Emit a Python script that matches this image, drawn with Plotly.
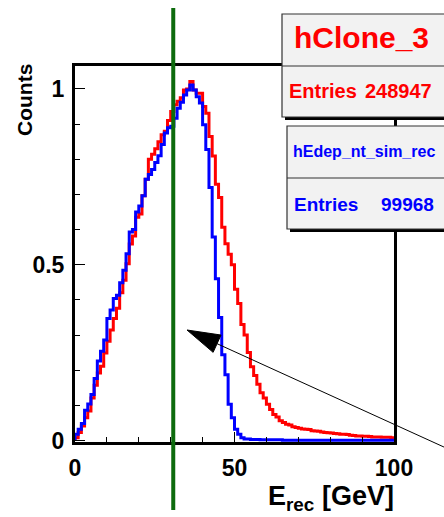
import numpy as np
import plotly.graph_objects as go

# ---------------- data ----------------
x_min, x_max, n_bins = 0.0, 100.0, 100

red_counts = [
    0.008, 0.023, 0.041, 0.065, 0.084, 0.121, 0.157, 0.192, 0.211, 0.249,
    0.282, 0.314, 0.347, 0.376, 0.420, 0.456, 0.503, 0.559, 0.582, 0.635,
    0.644, 0.696, 0.743, 0.800, 0.814, 0.830, 0.850, 0.870, 0.880, 0.910,
    0.936, 0.955, 0.965, 0.975, 0.997, 1.000, 1.021, 0.997, 0.988, 0.988,
    0.950, 0.931, 0.865, 0.809, 0.729, 0.691, 0.607, 0.560, 0.530, 0.500,
    0.430, 0.390, 0.330, 0.300, 0.250, 0.210, 0.185, 0.160, 0.136, 0.121,
    0.103, 0.088, 0.074, 0.067, 0.056, 0.051, 0.046, 0.044, 0.039, 0.037,
    0.035, 0.033, 0.032, 0.031, 0.028, 0.027, 0.026, 0.024, 0.023, 0.022,
    0.021, 0.020, 0.019, 0.018, 0.018, 0.017, 0.015, 0.014, 0.013, 0.013,
    0.012, 0.012, 0.011, 0.010, 0.010, 0.010, 0.009, 0.009, 0.009, 0.008,
]

blue_counts = [
    0.018, 0.032, 0.048, 0.086, 0.104, 0.131, 0.176, 0.226, 0.254, 0.286,
    0.347, 0.371, 0.404, 0.413, 0.449, 0.484, 0.531, 0.593, 0.600, 0.650,
    0.667, 0.696, 0.743, 0.757, 0.771, 0.791, 0.810, 0.842, 0.875, 0.890,
    0.894, 0.917, 0.945, 0.962, 0.983, 0.997, 1.011, 0.997, 0.978, 0.960,
    0.898, 0.828, 0.720, 0.579, 0.460, 0.350, 0.244, 0.187, 0.103, 0.065,
    0.032, 0.018, 0.008, 0.004, 0.004, 0.003, 0.003, 0.003, 0.002, 0.002,
    0.002, 0.002, 0.002, 0.002, 0.002, 0.001, 0.001, 0.001, 0.001, 0.001,
    0.001, 0.001, 0.001, 0.001, 0.001, 0.001, 0.001, 0.001, 0.001, 0.001,
    0.001, 0.001, 0.001, 0.001, 0.001, 0.001, 0.001, 0.001, 0.001, 0.001,
    0.001, 0.001, 0.001, 0.001, 0.001, 0.001, 0.001, 0.001, 0.001, 0.001,
]

red_name, red_entries = "hClone_3", "248947"
blue_name, blue_entries = "hEdep_nt_sim_rec", "99968"
cut_value = 30.8

x_tickvals = [0, 50, 100]
x_ticktext = ["0", "50", "100"]
y_tickvals = [0, 0.5, 1]
y_ticktext = ["0", "0.5", "1"]
x_title = "E<sub>rec</sub> [GeV]"
y_title = "Counts"

# ---------------- layout helpers ----------------
W, H = 444, 517
ML, MR, MT, MB = 75, 50, 66, 75
PW, PH = W - ML - MR, H - MT - MB
FONT = "Liberation Sans, Arial, Helvetica, sans-serif"


def pxx(x):
    return (x - ML) / PW


def pxy(y):
    return (H - MB - y) / PH


edges = np.linspace(x_min, x_max, n_bins + 1)


def step_xy(counts):
    xs = [edges[0]] + list(edges[:-1]) + [edges[-1], edges[-1]]
    ys = [0.0] + list(counts) + [counts[-1], 0.0]
    return xs, ys


fig = go.Figure()
for counts, color, name in [(red_counts, "#ff0000", red_name),
                            (blue_counts, "#0000ff", blue_name)]:
    xs, ys = step_xy(counts)
    fig.add_trace(go.Scatter(x=xs, y=ys, mode="lines", line_shape="hv",
                             line=dict(color=color, width=3), name=name,
                             showlegend=False, hoverinfo="skip"))

shapes = []
# green cut line
shapes.append(dict(type="line", xref="x", yref="paper", x0=cut_value, x1=cut_value,
                   y0=pxy(510), y1=pxy(8), line=dict(color="#0d6b0d", width=4),
                   layer="above"))

# arrow (shaft + head)
tip_px = (187.0, 330.0)
d = np.array([0.911, 0.415])
perp = np.array([-0.415, 0.911])
tail = np.array(tip_px) + 300 * d
base = np.array(tip_px) + 33 * d
b1 = base + 9.5 * perp
b2 = base - 9.5 * perp
shapes.append(dict(type="line", xref="paper", yref="paper",
                   x0=pxx(base[0]), y0=pxy(base[1]), x1=pxx(tail[0]), y1=pxy(tail[1]),
                   line=dict(color="black", width=1), layer="above"))
shapes.append(dict(type="path", xref="paper", yref="paper",
                   path=f"M{pxx(tip_px[0])},{pxy(tip_px[1])} L{pxx(b1[0])},{pxy(b1[1])} "
                        f"L{pxx(b2[0])},{pxy(b2[1])} Z",
                   fillcolor="black", line=dict(color="black", width=1), layer="above"))


def stat_box(x0, y0, x1, y1, ydiv):
    out = []
    out.append(dict(type="rect", xref="paper", yref="paper",
                    x0=pxx(x0 + 3), x1=pxx(x1 + 3), y0=pxy(y1 + 3), y1=pxy(y0 + 3),
                    fillcolor="black", line=dict(width=0), layer="above"))
    out.append(dict(type="rect", xref="paper", yref="paper",
                    x0=pxx(x0), x1=pxx(x1), y0=pxy(y1), y1=pxy(y0),
                    fillcolor="#f2f2f2", line=dict(color="#333333", width=1.2),
                    layer="above"))
    out.append(dict(type="line", xref="paper", yref="paper",
                    x0=pxx(x0), x1=pxx(x1), y0=pxy(ydiv), y1=pxy(ydiv),
                    line=dict(color="#333333", width=1.2), layer="above"))
    return out


shapes += stat_box(282, 14, 452, 117, 66)
shapes += stat_box(287, 126, 452, 229, 178)

annotations = []


def txt(text, x, y, size, color, xanchor="center", yanchor="middle", angle=0):
    annotations.append(dict(text=text, xref="paper", yref="paper", x=pxx(x), y=pxy(y),
                            xanchor=xanchor, yanchor=yanchor, showarrow=False,
                            textangle=angle, borderpad=0,
                            font=dict(family=FONT, size=size, color=color, weight="bold")))


txt(red_name, 361, 38, 30, "#ff0000")
txt("Entries", 288, 91, 20, "#ff0000", xanchor="left")
txt(red_entries, 433, 91, 20, "#ff0000", xanchor="right")
txt(blue_name, 364, 151, 16, "#0000ff")
txt("Entries", 293, 204, 19, "#0000ff", xanchor="left")
txt(blue_entries, 435, 204, 19, "#0000ff", xanchor="right")

txt(y_title, 25, 63, 21, "black", yanchor="top", angle=-90)
txt(x_title, 395, 498, 27, "black", xanchor="right")

axis_common = dict(showgrid=False, zeroline=False, showline=True, linewidth=3,
                   linecolor="black", mirror=True, ticks="inside", ticklen=10,
                   tickwidth=1, tickcolor="black",
                   tickfont=dict(family=FONT, size=23, color="black", weight="bold"))

fig.update_layout(
    width=W, height=H,
    margin=dict(l=ML, r=MR, t=MT, b=MB, pad=0),
    paper_bgcolor="white", plot_bgcolor="white",
    showlegend=False,
    xaxis=dict(range=[x_min, x_max], tickmode="array", tickvals=x_tickvals,
               ticktext=x_ticktext, ticklabelstandoff=3,
               minor=dict(tickmode="linear", tick0=0, dtick=10, ticks="inside",
                          ticklen=5, tickwidth=1, tickcolor="black", showgrid=False),
               **axis_common),
    yaxis=dict(range=[-0.0043, 1.0654], tickmode="array", tickvals=y_tickvals,
               ticktext=y_ticktext, ticklabelstandoff=3,
               minor=dict(tickmode="linear", tick0=0, dtick=0.1, ticks="inside",
                          ticklen=5, tickwidth=1, tickcolor="black", showgrid=False),
               **axis_common),
    shapes=shapes,
    annotations=annotations,
)

fig.write_html("out.html")
